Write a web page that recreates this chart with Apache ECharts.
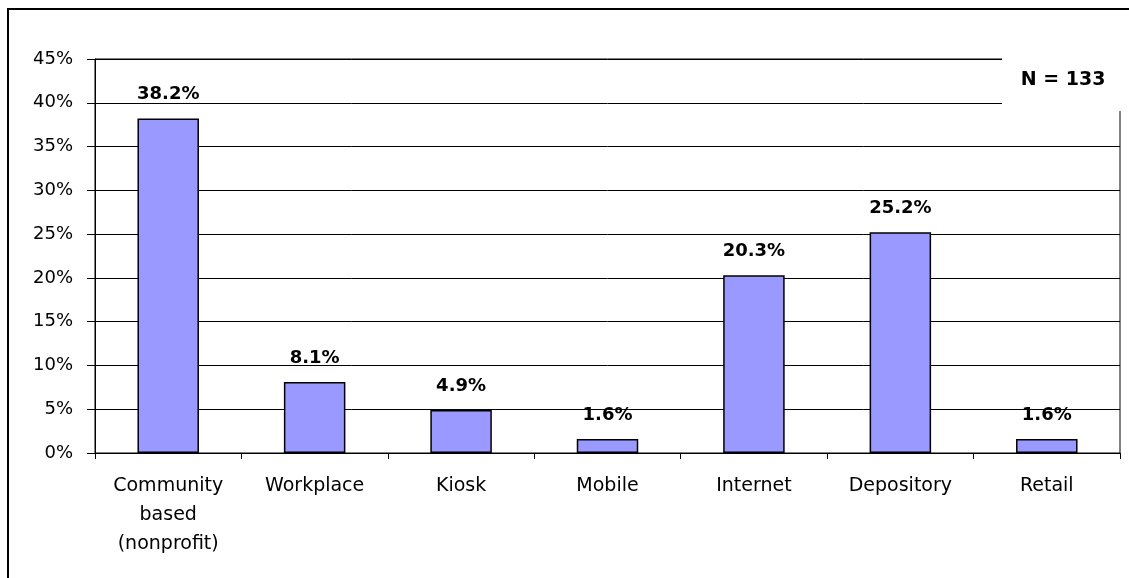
<!DOCTYPE html>
<html>
<head>
<meta charset="utf-8">
<title>Share by channel</title>
<script src="https://cdn.jsdelivr.net/npm/echarts@6/dist/echarts.min.js"></script>
<style>
  html, body { margin: 0; padding: 0; background: #fff; }
  #chart { width: 1129px; height: 578px; }
</style>
</head>
<body>
<div id="chart"></div>
<script>
// Channel categories and their percentage shares
const categories = ['Community\nbased\n(nonprofit)', 'Workplace', 'Kiosk', 'Mobile', 'Internet', 'Depository', 'Retail'];
const shares = [38.2, 8.1, 4.9, 1.6, 20.3, 25.2, 1.6];
const sampleNote = 'N = 133';

const FONT = 'DejaVu Sans';
const chart = echarts.init(document.getElementById('chart'), null, { renderer: 'canvas' });

chart.setOption({
  animation: false,
  backgroundColor: '#fff',
  grid: {
    left: 95, top: 59, right: 9, bottom: 125,
    show: true, borderColor: '#000', borderWidth: 1, backgroundColor: 'transparent'
  },
  xAxis: {
    type: 'category',
    data: categories,
    axisLine: { show: true, lineStyle: { color: '#000', width: 1 } },
    axisTick: { show: true, length: 6, lineStyle: { color: '#000' } },
    axisLabel: {
      color: '#000', fontFamily: FONT, fontSize: 19, lineHeight: 29,
      margin: 19, interval: 0
    }
  },
  yAxis: {
    type: 'value',
    min: 0, max: 45, interval: 5,
    axisLine: { show: true, lineStyle: { color: '#000', width: 1 } },
    axisTick: { show: true, length: 8, lineStyle: { color: '#000' } },
    axisLabel: {
      color: '#000', fontFamily: FONT, fontSize: 18, margin: 22,
      formatter: '{value}%'
    },
    splitLine: { show: true, lineStyle: { color: '#000', width: 1 } }
  },
  series: [{
    type: 'bar',
    data: shares,
    barWidth: '42%',
    itemStyle: { color: '#9999FF', borderColor: '#000', borderWidth: 1.5 },
    label: {
      show: true, position: 'top', distance: 15,
      color: '#000', fontFamily: FONT, fontWeight: 'bold', fontSize: 18,
      formatter: '{c}%'
    }
  }],
  graphic: [
    {
      type: 'rect', z: 50, silent: true,
      shape: { x: 8, y: 9, width: 1400, height: 800 },
      style: { fill: 'none', stroke: '#000', lineWidth: 2 }
    },
    {
      type: 'rect', z: 60, silent: true,
      shape: { x: 1002, y: 45, width: 140, height: 66 },
      style: { fill: '#fff', stroke: null }
    },
    {
      type: 'text', z: 70, silent: true,
      x: 1063, y: 80,
      style: {
        text: sampleNote, fill: '#000', font: 'bold 19px "DejaVu Sans"',
        align: 'center', verticalAlign: 'middle'
      }
    }
  ]
});
</script>
</body>
</html>
